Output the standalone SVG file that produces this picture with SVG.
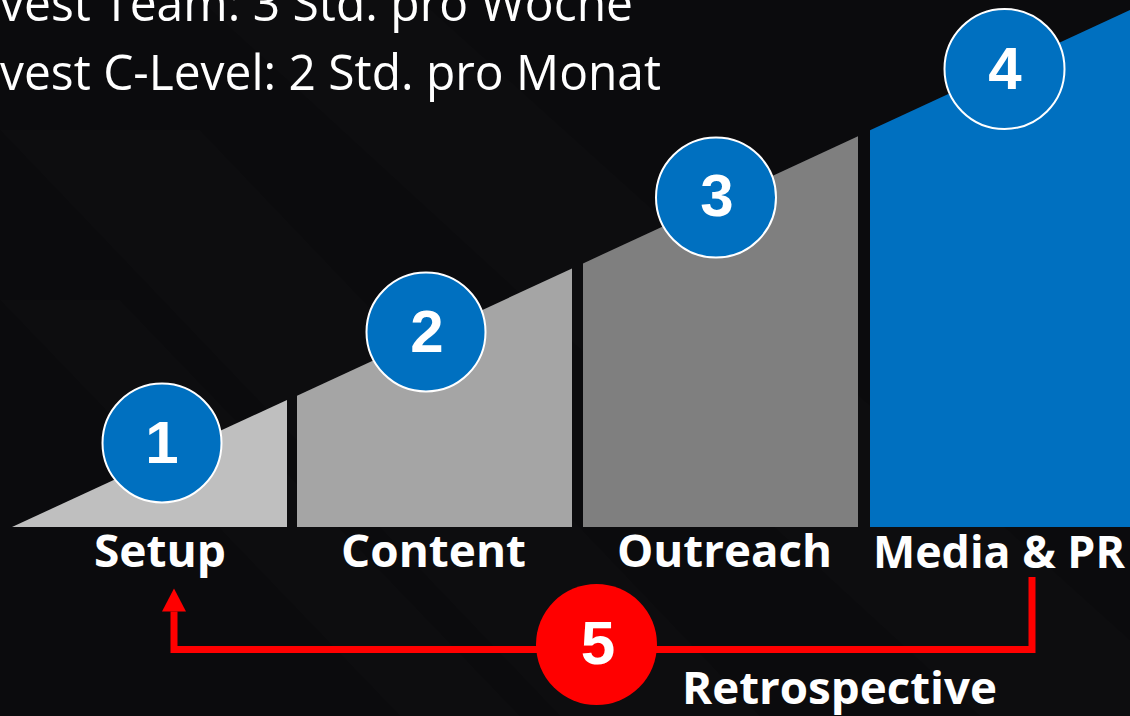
<svg xmlns="http://www.w3.org/2000/svg" width="1130" height="716" viewBox="0 0 1130 716">
  <style>
    .top { font-family: "Open Sans", "Liberation Sans", sans-serif; font-size: 50px; fill: #ffffff; }
    .lbl { font-family: "Open Sans", "Liberation Sans", sans-serif; font-size: 44px; font-weight: 700; fill: #ffffff; }
    .num { font-family: "Liberation Sans", Arial, sans-serif; font-size: 60px; font-weight: 700; fill: #ffffff; text-anchor: middle; }
    .badge { fill: #0070c0; stroke: #ffffff; stroke-width: 2; }
    .conn { fill: none; stroke: #ff0000; stroke-width: 7; }
  </style>
  <defs>
    <marker id="arrow" markerUnits="userSpaceOnUse" markerWidth="24" markerHeight="24" refX="0" refY="12" orient="auto" viewBox="0 0 24 24">
      <path d="M0,0 L23,12 L0,24 Z" fill="#ff0000"/>
    </marker>
  </defs>
  <!-- background -->
  <rect x="0" y="0" width="1130" height="716" fill="#0b0b0d"/>
  <g fill="#ffffff">
    <polygon points="0,130 200,130 760,716 560,716" opacity="0.012"/>
    <polygon points="200,0 420,0 1130,640 1130,716 980,716" opacity="0.01"/>
    <polygon points="0,300 120,300 520,716 400,716" opacity="0.012"/>
  </g>

  <!-- top text -->
  <text class="top" x="0" y="21" textLength="633" lengthAdjust="spacingAndGlyphs">vest Team: 3 Std. pro Woche</text>
  <text class="top" x="0" y="90" textLength="661" lengthAdjust="spacingAndGlyphs">vest C-Level: 2 Std. pro Monat</text>

  <!-- connector -->
  <g id="connectors">
    <path class="conn" d="M1032,577 L1032,649.5 L174,649.5 L174,611.5" marker-end="url(#arrow)"/>
  </g>

  <g id="step1">
    <polygon points="12,527 287,400 287,527" fill="#bfbfbf"/>
    <circle class="badge" cx="162" cy="443" r="59.5"/>
    <text class="num" x="162" y="463">1</text>
    <text class="lbl" x="94" y="567" textLength="132" lengthAdjust="spacingAndGlyphs">Setup</text>
  </g>
  <g id="step2">
    <polygon points="297,395.7 572,268.5 572,527 297,527" fill="#a5a5a5"/>
    <circle class="badge" cx="426" cy="332" r="59.5"/>
    <text class="num" x="427" y="352">2</text>
    <text class="lbl" x="341" y="567" textLength="185" lengthAdjust="spacingAndGlyphs">Content</text>
  </g>
  <g id="step3">
    <polygon points="583,263.4 858,136.3 858,527 583,527" fill="#7f7f7f"/>
    <circle class="badge" cx="716" cy="197.5" r="60"/>
    <text class="num" x="717" y="216">3</text>
    <text class="lbl" x="617" y="567" textLength="215" lengthAdjust="spacingAndGlyphs">Outreach</text>
  </g>
  <g id="step4">
    <polygon points="870,130.3 1130,10 1130,527 870,527" fill="#0070c0"/>
    <circle class="badge" cx="1004.5" cy="69" r="60"/>
    <text class="num" x="1005" y="89">4</text>
    <text class="lbl" x="873" y="568" textLength="252" lengthAdjust="spacingAndGlyphs">Media &amp; PR</text>
  </g>
  <g id="step5">
    <circle cx="596.5" cy="644.5" r="60.5" fill="#ff0000"/>
    <text class="num" x="598" y="664" style="font-size:62px">5</text>
    <text class="lbl" x="682" y="704" textLength="315" lengthAdjust="spacingAndGlyphs">Retrospective</text>
  </g>
</svg>
